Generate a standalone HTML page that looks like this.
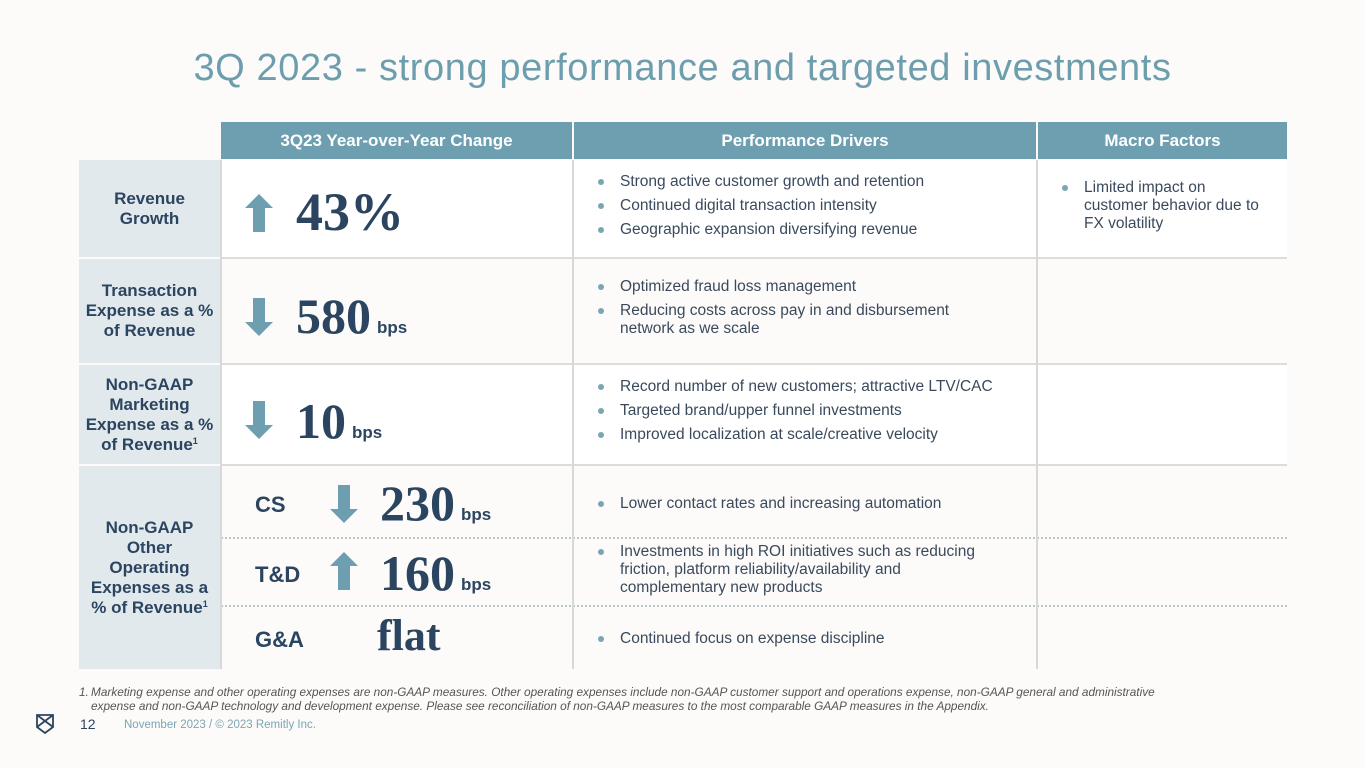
<!DOCTYPE html>
<html><head><meta charset="utf-8">
<style>
*{margin:0;padding:0;box-sizing:border-box}
body{width:1365px;height:768px;background:#fcfbf9;position:relative;overflow:hidden;font-family:"Liberation Sans",sans-serif;color:#2b4561}
.a{position:absolute}
.title{left:0;width:1365px;top:47px;text-align:center;font-size:38px;color:#6c9eae;letter-spacing:0.6px}
.hdr{background:#6d9fb0;color:#fff;font-weight:bold;font-size:17px;display:flex;align-items:center;justify-content:center;top:122px;height:37px}
.lab{background:#e2e9ed;font-weight:bold;font-size:17px;text-align:center;line-height:20px;display:flex;align-items:center;justify-content:center;left:79px;width:141px}
.lab sup{font-size:9px;vertical-align:6px;line-height:0}
.big{font-family:"Liberation Serif",serif;font-weight:bold;font-size:50px;color:#2b4561;white-space:nowrap}
.bps{font-size:17px;font-weight:bold;font-family:"Liberation Sans",sans-serif;margin-left:6px}
ul{list-style:none}
li{font-size:15.5px;line-height:18px;margin-bottom:6px;padding-left:26px;position:relative;color:#3a4a5c}
li:before{content:"";position:absolute;left:4px;top:6px;width:6px;height:6px;border-radius:50%;background:#7ba5b5}
.sub{font-weight:bold;font-size:22px}
.dot{border-top:2px dotted #b8c4c8;height:0}
.vl{background:#d8d8d8;width:2px}
</style></head><body>
<div class="a title">3Q 2023 - strong performance and targeted investments</div>

<div class="a" style="left:79px;top:160px;width:1208px;height:509px;background:#fcfbf9"></div>
<div class="a" style="left:221px;top:160px;width:1066px;height:98px;background:#fff"></div>
<div class="a" style="left:221px;top:364px;width:1066px;height:101px;background:#fff"></div>

<div class="a hdr" style="left:221px;width:351px">3Q23 Year-over-Year Change</div>
<div class="a hdr" style="left:574px;width:462px">Performance Drivers</div>
<div class="a hdr" style="left:1038px;width:249px">Macro Factors</div>

<div class="a lab" style="top:160px;height:97px"><div>Revenue<br>Growth</div></div>
<div class="a lab" style="top:259px;height:104px"><div>Transaction<br>Expense as a %<br>of Revenue</div></div>
<div class="a lab" style="top:365px;height:99px"><div>Non-GAAP<br>Marketing<br>Expense as a %<br>of Revenue<sup>1</sup></div></div>
<div class="a lab" style="top:466px;height:203px"><div>Non-GAAP<br>Other<br>Operating<br>Expenses as a<br>% of Revenue<sup>1</sup></div></div>

<div class="a" style="left:221px;top:257px;width:1066px;height:2px;background:#dcdcdc"></div>
<div class="a" style="left:221px;top:363px;width:1066px;height:2px;background:#dcdcdc"></div>
<div class="a" style="left:221px;top:464px;width:1066px;height:2px;background:#dcdcdc"></div>
<div class="a dot" style="left:221px;top:537px;width:1066px"></div>
<div class="a dot" style="left:221px;top:605px;width:1066px"></div>
<div class="a vl" style="left:220px;top:160px;height:509px"></div>
<div class="a vl" style="left:572px;top:160px;height:509px"></div>
<div class="a vl" style="left:1036px;top:160px;height:509px"></div>

<svg class="a" style="left:245px;top:194px" width="28" height="38"><polygon points="14,0 28,14 20,14 20,38 8,38 8,14 0,14" fill="#6d9fb0"/></svg>
<svg class="a" style="left:245px;top:298px" width="28" height="38"><polygon points="8,0 20,0 20,24 28,24 14,38 0,24 8,24" fill="#6d9fb0"/></svg>
<svg class="a" style="left:245px;top:401px" width="28" height="38"><polygon points="8,0 20,0 20,24 28,24 14,38 0,24 8,24" fill="#6d9fb0"/></svg>
<svg class="a" style="left:330px;top:485px" width="28" height="38"><polygon points="8,0 20,0 20,24 28,24 14,38 0,24 8,24" fill="#6d9fb0"/></svg>
<svg class="a" style="left:330px;top:552px" width="28" height="38"><polygon points="14,0 28,14 20,14 20,38 8,38 8,14 0,14" fill="#6d9fb0"/></svg>

<div class="a big" style="left:296px;top:181px;font-size:54px">43%</div>
<div class="a big" style="left:296px;top:287px">580<span class="bps">bps</span></div>
<div class="a big" style="left:296px;top:392px">10<span class="bps">bps</span></div>
<div class="a sub" style="left:255px;top:492px">CS</div>
<div class="a big" style="left:380px;top:474px">230<span class="bps">bps</span></div>
<div class="a sub" style="left:255px;top:562px">T&amp;D</div>
<div class="a big" style="left:380px;top:544px">160<span class="bps">bps</span></div>
<div class="a sub" style="left:255px;top:627px">G&amp;A</div>
<div class="a big" style="left:377px;top:610px;font-size:44px">flat</div>

<ul class="a" style="left:594px;top:173px;width:440px">
<li>Strong active customer growth and retention</li>
<li>Continued digital transaction intensity</li>
<li>Geographic expansion diversifying revenue</li></ul>
<ul class="a" style="left:594px;top:278px;width:440px">
<li>Optimized fraud loss management</li>
<li>Reducing costs across pay in and disbursement<br>network as we scale</li></ul>
<ul class="a" style="left:594px;top:378px;width:440px">
<li>Record number of new customers; attractive LTV/CAC</li>
<li>Targeted brand/upper funnel investments</li>
<li>Improved localization at scale/creative velocity</li></ul>
<ul class="a" style="left:594px;top:495px;width:440px">
<li>Lower contact rates and increasing automation</li></ul>
<ul class="a" style="left:594px;top:543px;width:440px">
<li>Investments in high ROI initiatives such as reducing<br>friction, platform reliability/availability and<br>complementary new products</li></ul>
<ul class="a" style="left:594px;top:630px;width:440px">
<li>Continued focus on expense discipline</li></ul>
<ul class="a" style="left:1058px;top:179px;width:228px">
<li>Limited impact on<br>customer behavior due to<br>FX volatility</li></ul>

<div class="a" style="left:79px;top:685px;width:1200px;font-size:11.8px;font-style:italic;color:#555;line-height:14px;padding-left:12px;white-space:nowrap"><span style="position:absolute;left:0">1.</span>Marketing expense and other operating expenses are non-GAAP measures. Other operating expenses include non-GAAP customer support and operations expense, non-GAAP general and administrative<br>expense and non-GAAP technology and development expense. Please see reconciliation of non-GAAP measures to the most comparable GAAP measures in the Appendix.</div>
<svg class="a" style="left:35px;top:713px" width="20" height="22"><path d="M2 2 H18 V14 L10 20 L2 14 Z M2 2 L18 14 M18 2 L2 14" fill="none" stroke="#2b4561" stroke-width="1.8"/></svg>
<div class="a" style="left:80px;top:716px;font-size:14px;color:#2b4561">12</div>
<div class="a" style="left:124px;top:719px;font-size:11.5px;color:#7ba5b5">November 2023 / © 2023 Remitly Inc.</div>
</body></html>
